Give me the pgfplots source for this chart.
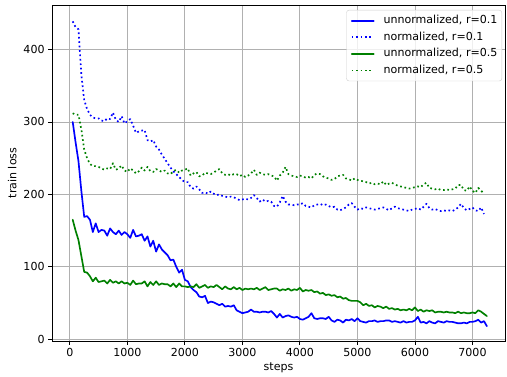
\documentclass[border=0pt]{standalone}
\usepackage{fontspec}
\setmainfont{DejaVu Sans}
\usepackage{pgfplots}
\usepackage{pgfplotstable}
\pgfplotsset{compat=1.18}

\definecolor{mplgrid}{RGB}{176,176,176}
\definecolor{mplblue}{RGB}{0,0,255}
\definecolor{mplgreen}{RGB}{0,128,0}
\definecolor{legedge}{RGB}{204,204,204}

% training loss of the unnormalized runs (r=0.1 and r=0.5)
\pgfplotstableread{
step ra rb
50 300 165
100 272 150
150 246 137
200 205 115
250 169 93
300 170 92
350 165 87
400 148 80
450 160 85
500 148 79
550 151 80
600 150 81
650 143 77
700 153 82
750 148 78
800 145 80
850 150 77
900 144 80
950 148 77
1000 145 78
1050 140 75
1100 151 81
1150 142 76
1200 143 77
1250 145 77
1300 136 80
1350 142 73
1400 128 79
1450 136 75
1500 121 80
1550 131 75
1600 124 77
1650 120 76
1700 116 76
1750 109 73
1800 110 77
1850 100 72
1900 92 77
1950 96 73
2000 82 73
2050 80 72
2100 72 73
2150 68 72
2200 65 76
2250 59 71
2300 58 73
2350 60 75
2400 50 71
2450 52 73
2500 51 72
2550 49 75
2600 47 72
2650 49 69
2700 45 73
2750 46 70
2800 45 69
2850 47 72
2900 40 69
2950 38 71
3000 36 68
3050 37 70
3100 38 69
3150 41 70
3200 38 69
3250 38 71
3300 37 68
3350 38 70
3400 38 72
3450 37 68
3500 39 69
3550 35 70
3600 30 70
3650 35 67
3700 30 69
3750 32 68
3800 33 70
3850 31 67
3900 30 69
3950 31 68
4000 28 71
4050 27 66
4100 29 68
4150 31 67
4200 36 68
4250 29 65
4300 28 66
4350 29 63
4400 29 64
4450 28 61
4500 31 62
4550 26 60
4600 24 61
4650 27 58
4700 26 59
4750 23 56
4800 27 57
4850 26 54
4900 28 53
4950 25 53
5000 29 53
5050 25 51
5100 24 47
5150 23 49
5200 25 46
5250 25 47
5300 26 44
5350 24 46
5400 25 45
5450 25 43
5500 26 45
5550 26 42
5600 24 43
5650 25 41
5700 24 42
5750 23 40
5800 25 41
5850 23 40
5900 24 42
5950 24 40
6000 26 44
6050 31 39
6100 23 41
6150 24 38
6200 22 40
6250 25 39
6300 23 40
6350 22 37
6400 25 38
6450 24 38
6500 23 37
6550 25 38
6600 24 37
6650 24 37
6700 23 36
6750 22 38
6800 22 36
6850 23 37
6900 22 36
6950 24 36
7000 24 37
7050 25 36
7100 27 40
7150 23 38
7200 25 35
7250 18 32
}\unnormtable

% training loss of the normalized runs (r=0.1 and r=0.5)
\pgfplotstableread{
step ra rb
50 439 312
100 431 310
150 428 310
200 365 290
250 330 262
300 318 250
350 310 242
400 306 239
450 305 239
500 305 238
550 302 236
600 301 234
650 305 236
700 304 235
750 313 243
800 303 234
850 300 236
900 308 240
950 298 233
1000 301 231
1050 304 236
1100 295 233
1150 285 229
1200 287 232
1250 288 237
1300 289 233
1350 275 238
1400 273 232
1450 275 231
1500 266 235
1550 262 233
1600 255 231
1650 249 233
1700 243 229
1750 237 228
1800 232 232
1850 228 234
1900 224 230
1950 220 233
2000 217 234
2050 217 236
2100 210 226
2150 208 229
2200 211 231
2250 207 225
2300 202 226
2350 203 230
2400 201 229
2450 204 228
2500 201 230
2550 199 233
2600 200 235
2650 198 229
2700 197 227
2750 196 228
2800 197 226
2850 196 228
2900 194 228
2950 192 225
3000 193 227
3050 194 224
3100 193 226
3150 195 229
3200 199 234
3250 195 227
3300 190 230
3350 193 228
3400 190 227
3450 191 228
3500 190 226
3550 184 225
3600 183 219
3650 189 226
3700 198 230
3750 190 238
3800 186 228
3850 186 226
3900 185 225
3950 186 224
4000 186 226
4050 188 225
4100 184 223
4150 183 224
4200 182 222
4250 185 227
4300 186 229
4350 187 228
4400 185 225
4450 186 223
4500 184 222
4550 182 220
4600 183 221
4650 179 225
4700 178 226
4750 180 227
4800 182 222
4850 186 221
4900 188 219
4950 183 222
5000 179 220
5050 181 219
5100 180 218
5150 182 217
5200 181 215
5250 180 216
5300 179 214
5350 180 215
5400 181 214
5450 182 218
5500 180 213
5550 178 215
5600 181 216
5650 183 214
5700 181 212
5750 180 211
5800 179 210
5850 178 209
5900 177 208
5950 179 209
6000 180 210
6050 181 211
6100 179 210
6150 183 214
6200 187 216
6250 181 209
6300 179 208
6350 180 207
6400 178 208
6450 177 206
6500 178 206
6550 177 207
6600 178 206
6650 177 207
6700 179 208
6750 182 213
6800 187 213
6850 181 206
6900 178 205
6950 180 211
7000 182 205
7050 178 202
7100 177 209
7150 182 205
7200 173 201
}\normtable

\begin{document}
\begin{tikzpicture}
\begin{axis}[
  width=453bp, height=336bp, scale only axis,
  xmin=-310, xmax=7565, ymin=-2.4, ymax=461.5,
  xtick={0,1000,...,7000}, ytick={0,100,...,400},
  scaled ticks=false,
  /pgf/number format/assume math mode=true,
  /pgf/number format/1000 sep={},
  tick align=outside, tick pos=left,
  major tick length=3.9bp,
  every tick/.style={black, line width=0.89bp},
  axis line style={black, line width=0.89bp},
  grid=major,
  grid style={mplgrid, line width=0.89bp},
  ticklabel style={font=\fontsize{11.1}{13}\selectfont},
  label style={font=\fontsize{11.1}{13}\selectfont},
  xlabel={steps}, ylabel={train loss},
  xlabel style={yshift=1bp},
  legend cell align=left,
  legend style={at={(1,1)}, anchor=north east, xshift=-3bp, yshift=-5bp,
    draw=legedge, rounded corners=2.5bp,
    fill=white, fill opacity=0.8, text opacity=1,
    font=\fontsize{11.1}{13}\selectfont,
    inner xsep=4.4bp, inner ysep=5bp,
    nodes={inner sep=0bp, text height=8.5bp, text depth=2.5bp},
    column sep=8.9bp, row sep=5.6bp},
  legend image code/.code={%
    \draw[mark repeat=2,mark phase=2,#1] plot coordinates {(0bp,0bp) (11bp,0bp) (22bp,0bp)};},
  every axis plot/.append style={line width=1.67bp, line join=round},
]
\addplot[mplblue, solid, line cap=round] table[x=step, y=ra] {\unnormtable};
\addlegendentry{unnormalized, r=0.1}
\addplot[mplblue, line cap=butt, dash pattern=on 1.67bp off 2.75bp] table[x=step, y=ra] {\normtable};
\addlegendentry{normalized, r=0.1}
\addplot[mplgreen, solid, line cap=round] table[x=step, y=rb] {\unnormtable};
\addlegendentry{unnormalized, r=0.5}
\addplot[mplgreen, line cap=butt, dash pattern=on 1.67bp off 2.75bp] table[x=step, y=rb] {\normtable};
\addlegendentry{normalized, r=0.5}
\end{axis}
\path ([shift={(-52bp,-34bp)}]current axis.south west) rectangle ([shift={(2bp,5bp)}]current axis.north east);
\end{tikzpicture}
\end{document}
